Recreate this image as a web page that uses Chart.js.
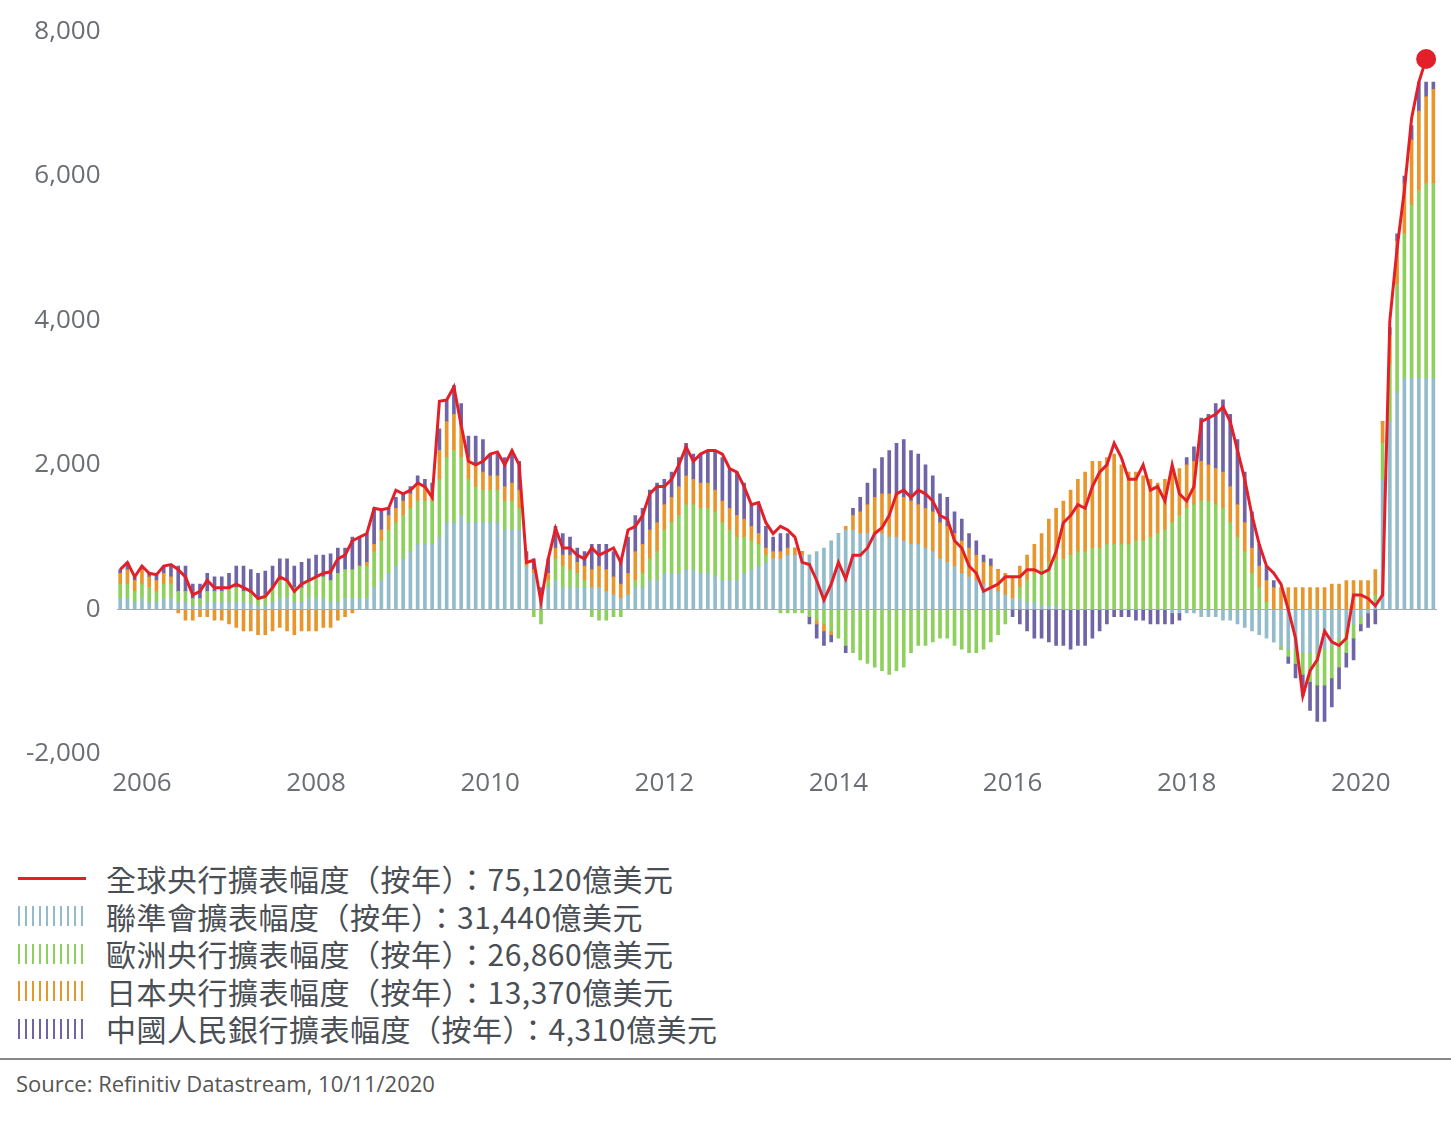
<!DOCTYPE html>
<html><head><meta charset="utf-8">
<script src="https://cdn.jsdelivr.net/npm/chart.js@4/dist/chart.umd.min.js"></script>
<style>
body{margin:0;background:#fff;font-family:"Noto Sans CJK TC","Open Sans",sans-serif;}
#wrap{position:absolute;left:0;top:0;width:1451px;height:805px;}
#legend{position:absolute;left:18px;top:860px;font-size:30px;line-height:37px;color:#4a4f55;letter-spacing:0.5px;}
.row{height:37.5px;display:flex;align-items:center;white-space:nowrap;}
.ic{width:66px;height:20px;margin-right:22px;flex:none;}
.ln{height:3px;background:#e3202a;width:68px;margin-right:20px;flex:none;}
#sep{position:absolute;left:0;top:1058px;width:1451px;height:2px;background:#888;}
#src{position:absolute;left:16px;top:1068px;font-size:22px;color:#555;font-family:"Open Sans",sans-serif;}
</style></head><body>
<div id="wrap"><canvas id="c" width="1451" height="805"></canvas></div>
<div id="legend"></div>
<div id="sep"></div>
<div id="src">Source: Refinitiv Datastream, 10/11/2020</div>
<script>
const months=[];for(let y=2005;y<=2020;y++){for(let m=1;m<=12;m++){if(y===2005&&m<10)continue;if(y===2020&&m>11)continue;months.push(y+'-'+String(m).padStart(2,'0'));}}
const total=[550,650,450,
600,500,480,600,620,550,450,200,250,400,300,300,
300,350,300,250,150,180,300,450,400,250,350,400,
450,500,520,700,750,950,1000,1050,1400,1380,1400,1650,
1600,1650,1750,1700,1550,2880,2900,3080,2550,2050,2000,2050,
2150,2180,2000,2200,2000,650,680,100,700,1120,850,850,
750,700,850,750,800,850,650,1100,1150,1300,1600,1700,
1700,1800,2000,2250,2050,2150,2200,2200,2150,1950,1900,1700,
1450,1480,1200,1050,1150,1100,1000,650,620,400,130,350,
650,420,750,750,850,1050,1130,1300,1600,1650,1550,1650,
1600,1500,1300,1250,950,850,600,500,250,300,350,450,
450,450,550,550,500,550,800,1200,1300,1450,1400,1700,
1900,2000,2300,2100,1800,1800,2000,1650,1700,1500,2000,1600,
1500,1700,2600,2650,2700,2800,2600,2200,1800,1300,900,600,
500,350,0,-400,-1200,-850,-700,-300,-450,-500,-400,200,
200,150,50,200,4000,5000,5800,6800,7300,7620,null];
const fed=[150,150,100,
150,100,100,150,150,100,100,50,50,100,100,100,
100,100,100,80,50,50,100,150,150,100,100,150,
150,150,100,100,150,150,150,150,300,400,500,600,
700,800,900,900,900,1000,1200,1200,1300,1200,1200,1200,
1200,1200,1100,1100,1100,600,500,200,300,400,300,300,
300,300,300,300,250,200,150,200,300,300,400,400,
500,500,500,550,550,500,500,450,400,400,400,500,
550,600,650,700,700,750,750,750,750,800,850,950,
1050,1100,1100,1050,1050,1050,1050,1000,1000,950,900,900,
850,800,700,650,600,500,450,400,350,300,250,200,
150,150,100,100,50,50,50,0,0,0,0,0,
0,0,0,0,0,0,0,0,0,0,-50,-50,
-50,-50,-100,-100,-100,-150,-150,-200,-250,-300,-350,-400,
-450,-500,-550,-550,-600,-600,-600,-550,-500,-400,-300,-200,
-100,-50,100,1800,2600,3000,3200,3200,3200,3200,3200];
const ecb=[200,200,150,
200,200,150,200,200,150,150,100,100,150,150,150,
200,200,150,150,100,150,200,250,250,200,200,250,
300,300,300,400,400,400,450,450,500,550,600,600,
600,600,600,600,600,800,900,1000,800,600,500,450,
450,450,400,400,300,0,-100,-200,100,300,300,250,
200,100,-100,-150,-150,-100,-100,0,100,200,300,400,
600,700,800,900,900,900,900,900,800,700,600,500,
400,300,100,0,-50,-50,-50,-50,-100,-150,-200,-300,
-400,-500,-600,-700,-750,-800,-850,-900,-850,-800,-600,-500,
-500,-450,-400,-400,-500,-550,-600,-600,-550,-450,-350,-200,
0,150,300,400,500,600,650,700,750,800,800,850,
850,900,900,900,900,950,950,1000,1050,1100,1200,1300,
1400,1450,1500,1500,1450,1400,1200,1000,800,500,300,100,
0,-50,-100,-200,-300,-400,-450,-500,-450,-400,-300,-200,
-100,0,100,500,800,1500,2000,2400,2600,2700,2700];
const boj=[150,200,150,
200,150,150,150,100,-50,-150,-150,-100,-100,-150,-150,
-200,-250,-300,-300,-350,-350,-300,-250,-300,-350,-300,-300,
-300,-250,-250,-150,-100,-50,0,50,100,150,200,200,
200,200,250,200,150,400,500,500,450,300,300,250,
200,200,200,250,250,100,50,0,100,150,150,200,
150,200,250,300,300,250,200,300,400,400,400,400,
350,350,400,400,350,350,350,300,300,300,300,250,
200,150,100,100,100,100,100,50,0,-50,-100,-50,
0,50,200,300,400,500,550,600,600,600,600,550,
550,550,500,500,450,450,400,350,300,300,300,300,
300,300,350,400,500,600,700,800,900,1000,1100,1200,
1200,1200,1250,1100,1000,950,900,800,700,700,700,650,
600,600,550,500,500,500,500,450,400,350,300,300,
300,300,300,300,300,300,300,300,350,350,400,400,
400,400,350,300,400,600,700,900,1100,1200,1300];
const pboc=[50,100,50,
50,50,80,100,170,350,350,200,200,250,200,200,
200,300,350,320,350,330,300,300,300,300,350,300,
300,300,370,350,300,450,400,400,500,280,100,150,
100,100,100,100,100,300,300,400,300,300,400,450,
300,300,400,450,400,100,150,100,200,300,300,250,
200,200,350,300,350,350,350,500,500,500,550,550,
350,350,400,450,350,400,450,550,600,550,600,500,
300,400,300,200,250,200,0,0,-100,-200,-200,-100,
0,-100,100,200,300,400,500,600,700,800,700,700,
600,500,400,400,300,300,200,200,100,100,0,0,
-100,-200,-300,-400,-400,-450,-500,-500,-550,-500,-500,-400,
-300,-200,-100,-100,-100,-150,-150,-200,-200,-200,-150,-100,
100,200,600,700,900,1000,1000,900,700,500,300,200,
100,0,-100,-200,-300,-400,-500,-500,-400,-300,-200,-300,
-100,-200,-200,0,100,100,100,200,400,200,100];
const yTicks=[-2000,0,2000,4000,6000,8000];
const names=['全球央行擴表幅度（按年）：75,120億美元','聯準會擴表幅度（按年）：31,440億美元','歐洲央行擴表幅度（按年）：26,860億美元','日本央行擴表幅度（按年）：13,370億美元','中國人民銀行擴表幅度（按年）：4,310億美元'];
const cols=['#e3202a','#93bccb','#8dd05c','#e8962c','#6e64a6'];
const last=total.reduce((a,v,i)=>v!==null?i:a,0);
const bar=(d,c)=>({type:'bar',data:d,backgroundColor:c,barThickness:3,stack:'s',order:1});
new Chart(document.getElementById('c'),{
 data:{labels:months,datasets:[
  {type:'line',data:total,borderColor:cols[0],borderWidth:3,tension:0,pointRadius:c=>c.dataIndex===last?10:0,pointBackgroundColor:cols[0],pointBorderWidth:0,order:0},
  bar(fed,cols[1]),bar(ecb,cols[2]),bar(boj,cols[3]),bar(pboc,cols[4])]},
 options:{responsive:false,animation:false,devicePixelRatio:1,
  layout:{padding:{left:10,right:14,top:22,bottom:0}},
  plugins:{legend:{display:false},tooltip:{enabled:false}},
  scales:{
   x:{stacked:true,grid:{display:false},border:{display:false},
      ticks:{autoSkip:false,maxRotation:0,color:'#6b6f74',font:{size:26,family:'Open Sans'},padding:6,
      callback:function(v){const l=months[v];const y=+l.slice(0,4),m=+l.slice(5);return (m===1&&y%2===0)?String(y):'';}}},
   y:{stacked:true,min:-2000,max:8000,afterBuildTicks:a=>{a.ticks=yTicks.map(v=>({value:v}));},
      grid:{color:c=>c.tick&&c.tick.value===0?'#aaa':'rgba(0,0,0,0)',drawTicks:false},border:{display:false},
      ticks:{color:'#6b6f74',font:{size:26,family:'Open Sans'},padding:16}}
  }}
});
const lg=document.getElementById('legend');
names.forEach((n,i)=>{const r=document.createElement('div');r.className='row';
 let ic=i===0?'<div class="ln"></div>':'<div class="ic" style="background:repeating-linear-gradient(90deg,'+cols[i]+' 0 2px,transparent 2px 7px)"></div>';
 r.innerHTML=ic+'<span>'+n+'</span>';lg.appendChild(r);});
</script></body></html>
